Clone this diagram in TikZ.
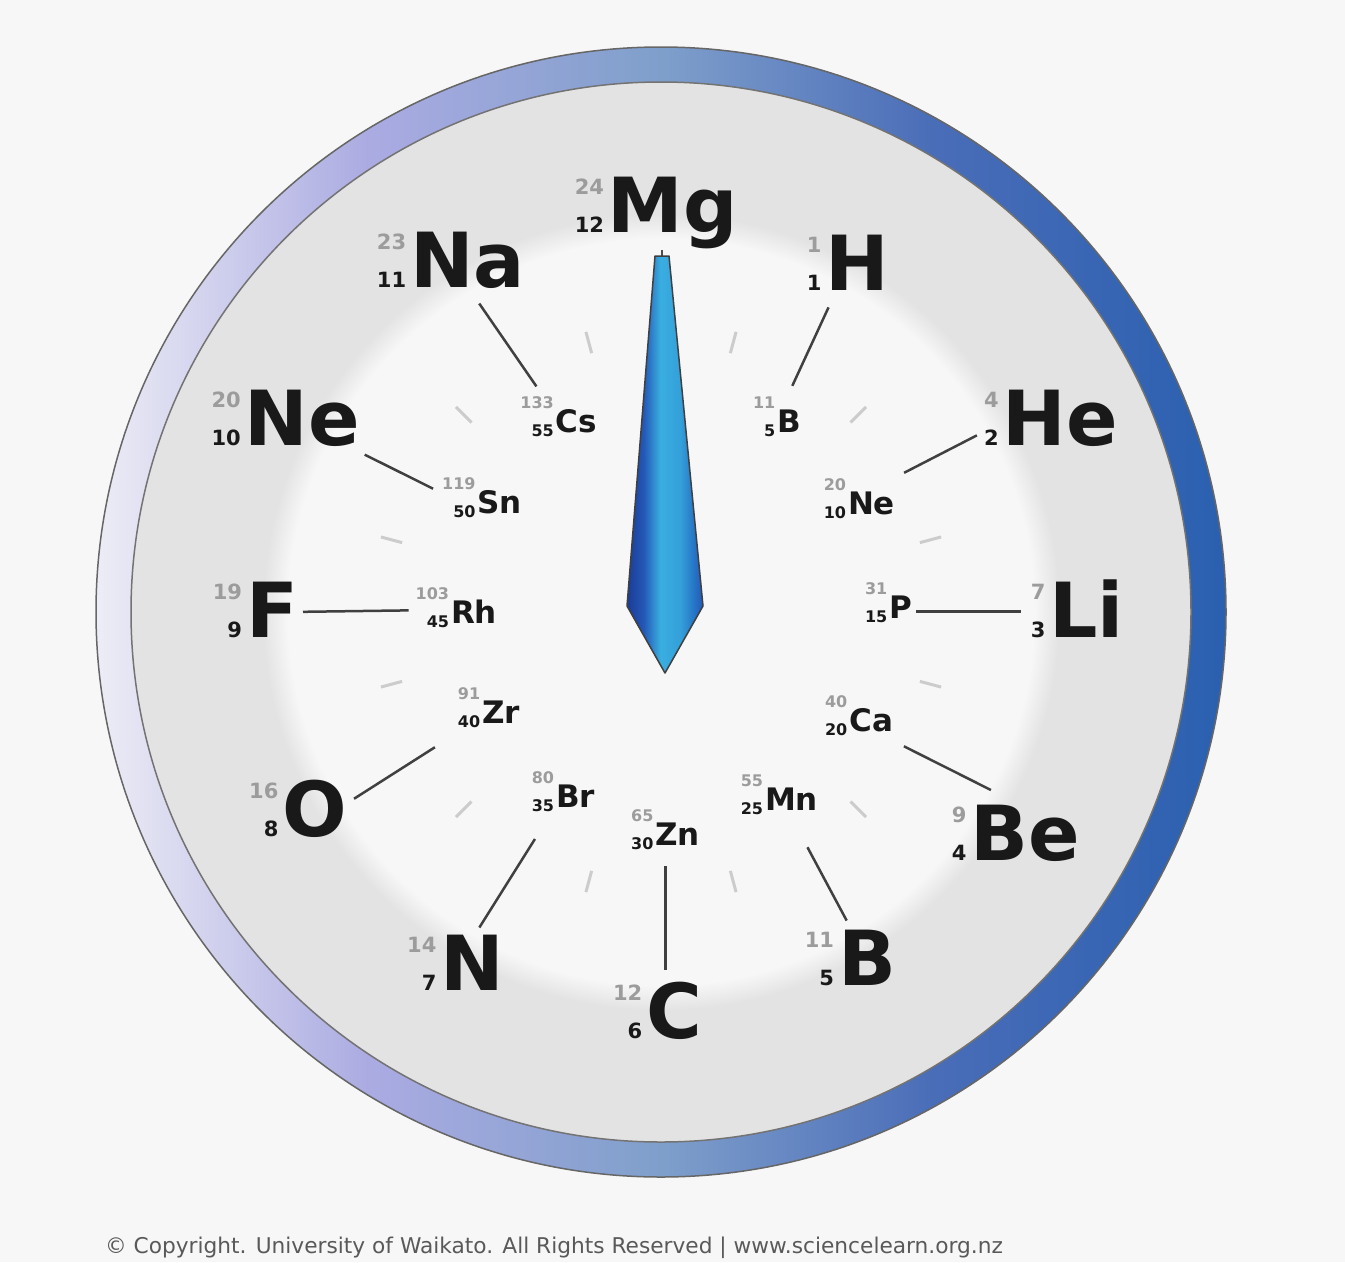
\documentclass[tikz,border=0pt]{standalone}
\usepackage{fontspec}
\setmainfont{DejaVu Sans}
\usetikzlibrary{calc}
\definecolor{bgc}{HTML}{F7F7F7}
\definecolor{ringA}{HTML}{EDEDF6}
\definecolor{ringB}{HTML}{ABABE2}
\definecolor{ringC}{HTML}{7F9FCB}
\definecolor{ringD}{HTML}{4A6DB8}
\definecolor{ringE}{HTML}{2A60B0}
\definecolor{faceIn}{HTML}{F7F7F7}
\definecolor{faceOut}{HTML}{E3E3E3}
\definecolor{massc}{HTML}{9C9C9C}
\definecolor{handA}{HTML}{1A3C94}
\definecolor{handB}{HTML}{2458B8}
\definecolor{handC}{HTML}{3AAEE0}
\definecolor{handD}{HTML}{34A0DA}
\definecolor{handE}{HTML}{2470C4}
\pgfdeclarehorizontalshading{ringsh}{100bp}{color(0bp)=(ringA); color(25bp)=(ringA); color(37bp)=(ringB); color(50bp)=(ringC); color(62bp)=(ringD); color(75bp)=(ringE); color(100bp)=(ringE)}
\pgfdeclareradialshading{facesh}{\pgfpoint{0bp}{0bp}}{color(0bp)=(faceIn); color(17.6bp)=(faceIn); color(18.8bp)=(faceOut); color(25bp)=(faceOut); color(50bp)=(faceOut)}
\pgfdeclarehorizontalshading{handsh}{100bp}{color(0bp)=(handA); color(25bp)=(handA); color(36bp)=(handB); color(47bp)=(handC); color(60bp)=(handD); color(70bp)=(handE); color(75bp)=(handB); color(100bp)=(handB)}
\newcommand\bigiso[3]{{\fontsize{21}{21}\selectfont\bfseries\begin{tabular}[b]{@{}r@{}}\textcolor{massc}{#1}\\[16pt]#2\end{tabular}}\hspace{4pt}{\fontsize{76}{76}\selectfont\bfseries #3}}
\newcommand\smalliso[3]{\raisebox{-4pt}{\fontsize{16}{16}\selectfont\bfseries\begin{tabular}[b]{@{}r@{}}\textcolor{massc}{#1}\\[11pt]#2\end{tabular}}\hspace{2pt}{\fontsize{31}{31}\selectfont\bfseries #3}}
\tikzset{
  elem/.style={inner sep=0pt, outer sep=2pt, anchor=base east, text=black!90},
  conn/.style={draw=black!75, line width=2.5pt, shorten <=10pt, shorten >=10pt},
  tickmark/.style={draw=black!20, line width=3pt},
}
\begin{document}
\begin{tikzpicture}[x=1pt,y=-1pt]
\useasboundingbox (0,0) rectangle (1345,1262);
\fill[bgc] (0,0) rectangle (1345,1262);
% outer ring
\shade[shading=ringsh, even odd rule] (661,612) circle[radius=565] (661,612) circle[radius=530];
% face
\shade[shading=facesh] (661,612) circle[radius=530];
\draw[black!60, line width=1.5pt] (661,612) circle[radius=565];
\draw[black!55, line width=1.5pt] (661,612) circle[radius=530];
% minute ticks
\foreach \a in {15,45,...,345}
  \draw[tickmark] ({661+268*sin(\a)},{612-268*cos(\a)}) -- ({661+290*sin(\a)},{612-290*cos(\a)});
% hour elements
\node[elem] (Mg) at (740,232) {\bigiso{24}{12}{Mg}};
\node[elem] (H)  at (891,290) {\bigiso{1}{1}{H}};
\node[elem] (He) at (1120,445) {\bigiso{4}{2}{He}};
\node[elem] (Li) at (1126,637) {\bigiso{7}{3}{Li}};
\node[elem] (Be) at (1082,860) {\bigiso{9}{4}{Be}};
\node[elem] (B)  at (898,985) {\bigiso{11}{5}{B}};
\node[elem] (C)  at (704,1038) {\bigiso{12}{6}{C}};
\node[elem] (N)  at (506,990) {\bigiso{14}{7}{N}};
\node[elem] (O)  at (349,836) {\bigiso{16}{8}{O}};
\node[elem] (F)  at (300,637) {\bigiso{19}{9}{F}};
\node[elem] (Ne) at (362,445) {\bigiso{20}{10}{Ne}};
\node[elem] (Na) at (527,287) {\bigiso{23}{11}{Na}};
% minute elements
\node[elem] (b5)  at (803,432) {\smalliso{11}{5}{B}};
\node[elem] (ne10) at (897,514) {\smalliso{20}{10}{Ne}};
\node[elem] (p15) at (914,618) {\smalliso{31}{15}{P}};
\node[elem] (ca20) at (895,731) {\smalliso{40}{20}{Ca}};
\node[elem] (mn25) at (820,810) {\smalliso{55}{25}{Mn}};
\node[elem] (zn30) at (702,845) {\smalliso{65}{30}{Zn}};
\node[elem] (br35) at (597,807) {\smalliso{80}{35}{Br}};
\node[elem] (zr40) at (522,723) {\smalliso{91}{40}{Zr}};
\node[elem] (rh45) at (499,623) {\smalliso{103}{45}{Rh}};
\node[elem] (sn50) at (524,513) {\smalliso{119}{50}{Sn}};
\node[elem] (cs55) at (599,432) {\smalliso{133}{55}{Cs}};
% connectors
\draw[conn] (H) -- (b5);
\draw[conn, shorten <=6pt, shorten >=8pt] (He.-170) -- (ne10.north east);
\draw[conn, shorten <=8pt, shorten >=2pt] (Li.west) -- (Li.west -| p15.east);
\draw[conn, shorten <=10pt, shorten >=28pt] (ca20.south east) -- (Be.north);
\draw[conn, shorten <=8pt, shorten >=30pt] (B.north) -- (mn25.-60);
\draw[conn] (zn30) -- (zn30 |- C.north);
\draw[conn, shorten <=6pt, shorten >=25pt] (N) -- (br35);
\draw[conn, shorten <=6pt, shorten >=25pt] (O.10) -- (zr40.south west);
\draw[conn, shorten <=3pt, shorten >=5pt] (F) -- (rh45);
\draw[conn, shorten <=3pt, shorten >=8pt] (Ne.south east) -- (sn50.170);
\draw[conn] (Na) -- (cs55);
% hand
\coordinate (handtop) at (662,256);
\draw[black!70, line width=1.5pt] (handtop) -- (handtop |- Mg.south);
\shade[shading=handsh, draw=black!75, line width=1.5pt, line join=round] (655,256) -- (669,256) -- (703,606) -- (665,673) -- (627,606) -- cycle;
% copyright
\node[font=\fontsize{21.7}{22}\selectfont, text=black!65, inner sep=0pt] (copy) at (554,1248) {© Copyright. University of Waikato. All Rights Reserved | www.sciencelearn.org.nz};
\end{tikzpicture}
\end{document}
